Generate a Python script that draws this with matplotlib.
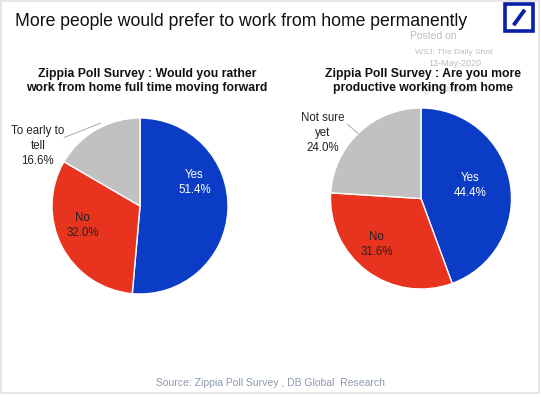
import matplotlib
matplotlib.use("Agg")
import matplotlib.pyplot as plt
import matplotlib.patches as mpatches
import numpy as np

plt.rcParams['font.family'] = ['Liberation Sans', 'DejaVu Sans']

# ---- data ----
title = "More people would prefer to work from home permanently"
q1_title = "Zippia Poll Survey : Would you rather\nwork from home full time moving forward"
q1_labels = ["Yes", "No", "To early to\ntell"]
q1_values = [51.4, 32.0, 16.6]
q2_title = "Zippia Poll Survey : Are you more\nproductive working from home"
q2_labels = ["Yes", "No", "Not sure\nyet"]
q2_values = [44.4, 31.6, 24.0]
colors = ["#0b3cc6", "#e8331f", "#c1c1c1"]
source = "Source: Zippia Poll Survey , DB Global  Research"

W, H = 541, 397
fig = plt.figure(figsize=(W / 100, H / 100), dpi=100)
fig.patch.set_facecolor("white")


def px_axes(cx, cy, r):
    return fig.add_axes([(cx - r) / W, (H - cy - r) / H, 2 * r / W, 2 * r / H])


def draw_pie(ax, values, labels, inner_pos, outer_pos, leader):
    wedges, _ = ax.pie(values, colors=colors, startangle=90, counterclock=False,
                       wedgeprops=dict(edgecolor="white", linewidth=1.0))
    ax.set_xlim(-1, 1)
    ax.set_ylim(-1, 1)
    ax.set_aspect("equal")
    ax.axis("off")
    for i, (lab, val) in enumerate(zip(labels, values)):
        txt = f"{lab}\n{val:.1f}%"
        if i < 2:
            col = "white" if i == 0 else "#222222"
            ax.text(inner_pos[i][0], inner_pos[i][1], txt, ha="center", va="center",
                    fontsize=8.3, color=col, linespacing=1.35)
        else:
            ax.text(outer_pos[0], outer_pos[1], txt, ha="center", va="center",
                    fontsize=8.3, color="#222222", linespacing=1.35, clip_on=False)
            ax.plot(leader[0], leader[1], color="#aaaaaa", lw=0.7, clip_on=False)


ax1 = px_axes(140, 206, 88)
draw_pie(ax1, q1_values, q1_labels,
         [(0.62, 0.27), (-0.65, -0.22)], (-1.16, 0.68),
         ([-0.86, -0.45], [0.78, 0.94]))

ax2 = px_axes(421, 198.5, 90.5)
draw_pie(ax2, q2_values, q2_labels,
         [(0.54, 0.14), (-0.49, -0.51)], (-1.09, 0.72),
         ([-0.81, -0.70], [0.82, 0.72]))

# titles
fig.text(15 / W, 1 - 22 / H, title, ha="left", va="center", fontsize=12.7, color="#111111")
fig.text(147 / W, 1 - 81 / H, q1_title, ha="center", va="center", fontsize=8.8,
         fontweight="bold", color="#111111", linespacing=1.25)
fig.text(423 / W, 1 - 81 / H, q2_title, ha="center", va="center", fontsize=8.8,
         fontweight="bold", color="#111111", linespacing=1.25)

# watermark texts
fig.text(433 / W, 1 - 36 / H, "Posted on", ha="center", va="center", fontsize=7.5, color="#bdbdbd")
fig.text(454 / W, 1 - 52 / H, "WSJ: The Daily Shot", ha="center", va="center", fontsize=6, color="#bdbdbd")
fig.text(455 / W, 1 - 64 / H, "13-May-2020", ha="center", va="center", fontsize=6.5, color="#bdbdbd")
fig.text(450 / W, 1 - 88 / H, "@SoberLook", ha="center", va="center", fontsize=7, color="#d5d5d5", zorder=0)

# source
fig.text(270 / W, 1 - 383 / H, source, ha="center", va="center", fontsize=7.5, color="#8b98ad")

# logo
lax = fig.add_axes([503 / W, (H - 33) / H, 32 / W, 31 / H])
lax.set_xlim(0, 1)
lax.set_ylim(0, 1)
lax.axis("off")
lax.add_patch(mpatches.Rectangle((0.05, 0.05), 0.9, 0.9, fill=False, edgecolor="#0a1fa8", lw=2.6))
lax.plot([0.33, 0.68], [0.25, 0.75], color="#0a1fa8", lw=2.8, solid_capstyle="butt")

# frame
fax = fig.add_axes([0, 0, 1, 1], facecolor="none")
fax.set_xlim(0, W)
fax.set_ylim(H, 0)
fax.axis("off")
fax.add_patch(mpatches.Rectangle((1, 1), W - 3, H - 5, fill=False, edgecolor="#e2e2e2", lw=1.2))

fig.savefig("out.png", dpi=100, facecolor="white")
